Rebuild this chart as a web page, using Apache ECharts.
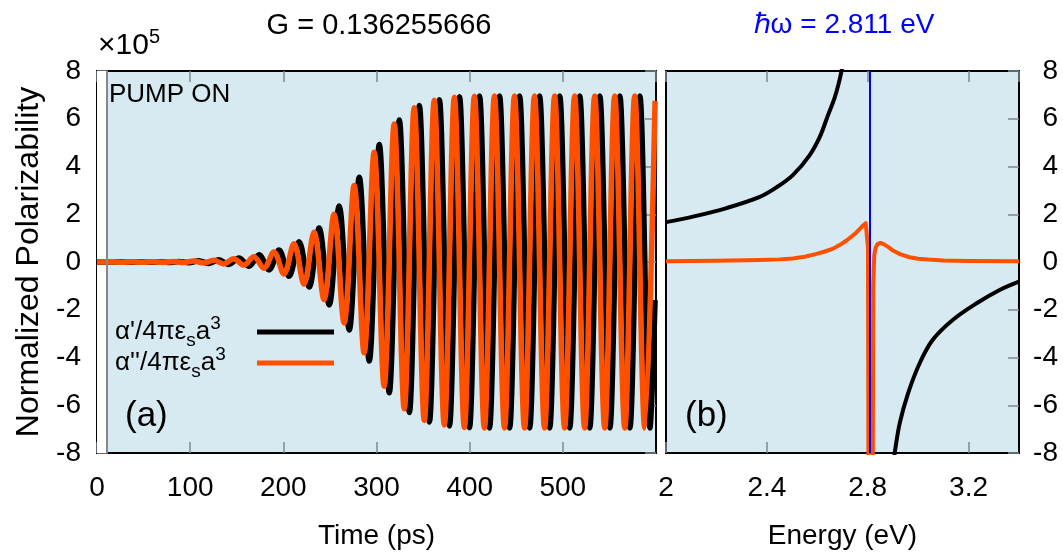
<!DOCTYPE html>
<html><head><meta charset="utf-8">
<script src="https://cdn.jsdelivr.net/npm/echarts@6/dist/echarts.min.js"></script>
<style>html,body{margin:0;padding:0;background:#fff}#c{width:1063px;height:556px}</style>
</head><body><div id="c"></div>
<script>
// ---- Panel (a): time domain (values in units of 1e5) ----
const TIME_ORANGE = [0, 17.7, 28.5, 39.2, 50.0, 60.8, 71.5, 82.3, 93.0, 103.8, 114.6, 125.3, 136.1, 146.8, 157.6, 168.4, 179.1, 189.9, 200.6, 211.4, 222.2, 232.9, 243.7, 254.4, 265.2, 276.0, 286.7, 297.5, 308.2, 319.0, 329.8, 340.5, 351.3, 362.0, 372.8, 383.6, 394.3, 405.1, 415.8, 426.6, 437.4, 448.1, 458.9, 469.6, 480.4, 491.2, 501.9, 512.7, 523.4, 534.2, 545.0, 555.7, 566.5, 577.2, 588.0, 599];
const ALPHA2_TIME = [0, 0.01, -0.01, 0.01, -0.01, 0.015, -0.015, 0.02, -0.02, 0.04, -0.04, 0.07, -0.08, 0.14, -0.13, 0.22, -0.26, 0.42, -0.5, 0.76, -0.93, 1.25, -1.57, 2.0, -2.55, 3.2, -3.8, 4.6, -5.2, 5.78, -6.15, 6.46, -6.64, 6.77, -6.83, 6.9, -6.93, 6.94, -6.95, 6.95, -6.95, 6.95, -6.95, 6.95, -6.95, 6.95, -6.95, 6.95, -6.95, 6.95, -6.95, 6.95, -6.95, 6.95, -6.95, 6.75];
const TIME_BLACK = [0, 23.2, 34.0, 44.7, 55.5, 66.3, 77.0, 87.8, 98.5, 109.3, 120.1, 130.8, 141.6, 152.3, 163.1, 173.9, 184.6, 195.4, 206.1, 216.9, 227.7, 238.4, 249.2, 259.9, 270.7, 281.5, 292.2, 303.0, 313.7, 324.5, 335.3, 346.0, 356.8, 367.5, 378.3, 389.1, 399.8, 410.6, 421.3, 432.1, 442.9, 453.6, 464.4, 475.1, 485.9, 496.7, 507.4, 518.2, 528.9, 539.7, 550.5, 561.2, 572.0, 582.7, 593.5, 599];
const ALPHA1_TIME = [0, 0.01, -0.01, 0.01, -0.01, 0.015, -0.02, 0.025, -0.03, 0.05, -0.06, 0.09, -0.1, 0.17, -0.18, 0.3, -0.33, 0.5, -0.6, 0.85, -1.05, 1.42, -1.8, 2.35, -2.85, 3.55, -4.15, 4.92, -5.48, 5.95, -6.3, 6.56, -6.7, 6.8, -6.87, 6.92, -6.94, 6.95, -6.95, 6.95, -6.95, 6.95, -6.95, 6.95, -6.95, 6.95, -6.95, 6.95, -6.95, 6.95, -6.95, 6.95, -6.95, 6.95, -6.95, -1.6];

// ---- Panel (b): energy domain ----
const E_BLACK_LOW = [2.0, 2.107, 2.24, 2.372, 2.44, 2.503, 2.57, 2.61, 2.64, 2.67, 2.69, 2.705];
const ALPHA1_LOW = [1.67, 1.9, 2.26, 2.73, 3.14, 3.64, 4.48, 5.24, 6.08, 6.92, 7.7, 8.5];
const E_BLACK_HIGH = [2.899, 2.907, 2.927, 2.96, 3.006, 3.058, 3.137, 3.232, 3.323, 3.4];
const ALPHA1_HIGH = [-8.6, -8.0, -6.75, -5.5, -4.24, -3.26, -2.43, -1.73, -1.17, -0.82];
const E_ORANGE = [2.0, 2.2, 2.37, 2.45, 2.503, 2.55, 2.597, 2.63, 2.663, 2.69, 2.716, 2.74, 2.755, 2.77, 2.782, 2.792, 2.798, 2.801, 2.803, 2.820, 2.822, 2.826, 2.832, 2.840, 2.851, 2.865, 2.885, 2.90, 2.93, 2.966, 3.0, 3.04, 3.1, 3.2, 3.4];
const ALPHA2_E = [0.03, 0.05, 0.08, 0.11, 0.15, 0.22, 0.34, 0.44, 0.56, 0.72, 0.9, 1.1, 1.24, 1.4, 1.53, 1.63, 1.68, 0.6, -9, -9, -1.0, 0.3, 0.62, 0.76, 0.8, 0.74, 0.6, 0.48, 0.32, 0.2, 0.14, 0.1, 0.06, 0.04, 0.03];
const PUMP_E = 2.811;

const TIME_TICK_STEP = 100, ENERGY_TICK_STEP = 0.4, Y_TICK_STEP = 2;
const NAME_RE = "α'/4πεsa3", NAME_IM = "α''/4πεsa3";

const zip = (xs, ys) => xs.map((x, i) => [x, ys[i]]);
const FONT = 'Liberation Sans, Arial, sans-serif';
const BG = '#d7eaf1', ORANGE = '#ff5000', TICKC = '#7f8a8f';
const FS = 28;

const chart = echarts.init(document.getElementById('c'), null, {renderer: 'canvas'});

function xAx(grid, min, max, step, pos, labels, name) {
  return {
    type: 'value', gridIndex: grid, min, max, interval: step, position: pos,
    axisLine: {show: false, onZero: false},
    axisTick: {show: true, inside: true, length: 11, lineStyle: {color: TICKC, width: 1.5}},
    axisLabel: {show: labels, color: '#000', fontSize: FS, fontFamily: FONT, margin: 21, showMaxLabel: false},
    splitLine: {show: false},
    name: name || '', nameLocation: 'middle', nameGap: 69,
    nameTextStyle: {color: '#000', fontSize: FS, fontFamily: FONT}
  };
}
function yAx(grid, pos, labels, opts) {
  return Object.assign({
    type: 'value', gridIndex: grid, min: -8, max: 8, interval: Y_TICK_STEP, position: pos,
    axisLine: {show: false, onZero: false},
    axisTick: {show: true, inside: true, length: 11, lineStyle: {color: TICKC, width: 1.5}},
    axisLabel: {show: labels, color: '#000', fontSize: FS, fontFamily: FONT, margin: 16},
    splitLine: {show: false}
  }, opts || {});
}

const legendRich = {
  m: {fontSize: 26, fontFamily: FONT, color: '#000', lineHeight: 36, align: 'left'},
  sub: {fontSize: 19, fontFamily: FONT, color: '#000', verticalAlign: 'bottom', lineHeight: 36, align: 'left'},
  sup: {fontSize: 19, fontFamily: FONT, color: '#000', verticalAlign: 'top', lineHeight: 36, align: 'left'}
};
const legendFmt = {};
legendFmt[NAME_RE] = "{m|α'/4πε}{sub|s}{m|a}{sup|3}";
legendFmt[NAME_IM] = "{m|α''/4πε}{sub|s}{m|a}{sup|3}";
function legend(name, top) {
  return {
    data: [{name: name, icon: 'rect'}], orient: 'vertical', right: 1063 - 334, top: top,
    itemWidth: 77, itemHeight: 5, align: 'right', selectedMode: false, padding: 0,
    formatter: n => legendFmt[n],
    textStyle: {rich: legendRich, fontSize: 26, fontFamily: FONT, width: 137}
  };
}

const option = {
  animation: false,
  backgroundColor: '#fff',
  title: [
    {text: 'G = 0.136255666', left: 374, top: 6, textAlign: 'center',
     textStyle: {fontSize: 29, fontWeight: 'normal', fontFamily: FONT, color: '#000'}},
    {text: 'ℏω = 2.811 eV', left: 839, top: 6, textAlign: 'center',
     textStyle: {fontSize: 28, fontWeight: 'normal', fontFamily: FONT, color: '#0000ff'}}
  ],
  grid: [
    {left: 97, top: 71, width: 559, height: 382, show: true, backgroundColor: BG, borderColor: '#000', borderWidth: 2},
    {left: 666, top: 71, width: 353, height: 382, show: true, backgroundColor: BG, borderColor: '#000', borderWidth: 2}
  ],
  xAxis: [
    xAx(0, 0, 600, TIME_TICK_STEP, 'bottom', true, 'Time (ps)'),
    xAx(0, 0, 600, TIME_TICK_STEP, 'top', false),
    xAx(1, 2, 3.4, ENERGY_TICK_STEP, 'bottom', true, 'Energy (eV)'),
    xAx(1, 2, 3.4, ENERGY_TICK_STEP, 'top', false)
  ],
  yAxis: [
    yAx(0, 'left', true, {name: 'Normalized Polarizability', nameLocation: 'middle', nameGap: 50, nameRotate: 90,
      nameTextStyle: {color: '#000', fontSize: 32, fontFamily: FONT}}),
    yAx(0, 'right', false),
    yAx(1, 'right', true, {axisLabel: {show: true, color: '#000', fontSize: FS, fontFamily: FONT, margin: 39, align: 'right'}})
  ],
  legend: [legend(NAME_RE, 314), legend(NAME_IM, 345)],
  series: [
    {name: NAME_RE, type: 'line', xAxisIndex: 0, yAxisIndex: 0, data: zip(TIME_BLACK, ALPHA1_TIME),
     showSymbol: false, symbol: 'none', smooth: 0.35, z: 3,
     lineStyle: {color: '#000', width: 5.5}, itemStyle: {color: '#000'},
     markArea: {silent: true, itemStyle: {color: '#ffffff', opacity: 1},
       data: [[{xAxis: 0, yAxis: -8, itemStyle: {color: '#ffffff', opacity: 1}}, {xAxis: 10, yAxis: 8}]]},
     markLine: {silent: true, symbol: 'none', label: {show: false}, lineStyle: {color: '#888', width: 2, type: 'solid'}, data: [{xAxis: 10}]}},
    {name: NAME_IM, type: 'line', xAxisIndex: 0, yAxisIndex: 0, data: zip(TIME_ORANGE, ALPHA2_TIME),
     showSymbol: false, symbol: 'none', smooth: 0.35, z: 4,
     lineStyle: {color: ORANGE, width: 5.5}, itemStyle: {color: ORANGE}},
    {name: NAME_RE, type: 'line', xAxisIndex: 2, yAxisIndex: 2, data: zip(E_BLACK_LOW, ALPHA1_LOW),
     showSymbol: false, symbol: 'none', smooth: 0.35, z: 3,
     lineStyle: {color: '#000', width: 4}, itemStyle: {color: '#000'}},
    {name: NAME_RE, type: 'line', xAxisIndex: 2, yAxisIndex: 2, data: zip(E_BLACK_HIGH, ALPHA1_HIGH),
     showSymbol: false, symbol: 'none', smooth: 0.35, z: 3,
     lineStyle: {color: '#000', width: 4}, itemStyle: {color: '#000'}},
    {name: NAME_IM, type: 'line', xAxisIndex: 2, yAxisIndex: 2, data: zip(E_ORANGE, ALPHA2_E),
     showSymbol: false, symbol: 'none', smooth: false, z: 4,
     lineStyle: {color: ORANGE, width: 4, join: 'round'}, itemStyle: {color: ORANGE},
     markLine: {silent: true, symbol: 'none', label: {show: false}, lineStyle: {color: '#0000ff', width: 2, type: 'solid'}, data: [{xAxis: PUMP_E}]}}
  ],
  graphic: [
    {type: 'text', left: 98, top: 31, style: {text: '×10', fontSize: 30, fontFamily: FONT, fill: '#000'}},
    {type: 'text', left: 149, top: 27, style: {text: '5', fontSize: 20, fontFamily: FONT, fill: '#000'}},
    {type: 'text', left: 109, top: 82, style: {text: 'PUMP ON', fontSize: 26, fontFamily: FONT, fill: '#000'}},
    {type: 'text', left: 125, top: 399, style: {text: '(a)', fontSize: 35, fontFamily: FONT, fill: '#000'}},
    {type: 'text', left: 685, top: 399, style: {text: '(b)', fontSize: 35, fontFamily: FONT, fill: '#000'}}
  ]
};
chart.setOption(option);
</script></body></html>
